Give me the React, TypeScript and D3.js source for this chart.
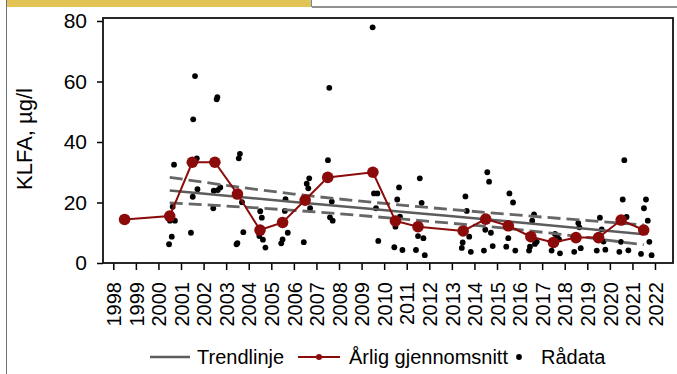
import React from "react";
import * as d3 from "d3";

// x-axis tick labels
const yearTicks = [
  1998, 1999, 2000, 2001, 2002, 2003, 2004, 2005, 2006, 2007, 2008, 2009, 2010,
  2011, 2012, 2013, 2014, 2015, 2016, 2017, 2018, 2019, 2020, 2021, 2022,
];
const yTicks = [0, 20, 40, 60, 80];

// årlig gjennomsnitt (plotted mid-year)
const meanYears = [
  1998.5, 2000.5, 2001.5, 2002.5, 2003.5, 2004.5, 2005.5, 2006.5, 2007.5,
  2009.5, 2010.5, 2011.5, 2013.5, 2014.5, 2015.5, 2016.5, 2017.5, 2018.5,
  2019.5, 2020.5, 2021.5,
];
const meanValues = [
  14.4, 15.5, 33.3, 33.3, 22.8, 10.9, 13.4, 20.8, 28.3, 30.0, 13.9, 12.0, 10.6,
  14.5, 12.3, 8.7, 6.8, 8.4, 8.4, 14.2, 10.9,
];

// trendlinje + konfidensintervall
const trendYears = [2000.5, 2006, 2011, 2016, 2021.5];
const trendValues = [24.0, 20.2, 16.8, 13.4, 9.5];
const trendUpper = [28.3, 22.8, 19.0, 15.8, 12.6];
const trendLower = [19.9, 17.4, 14.4, 11.0, 6.0];

// rådata [tid, verdi]
const rawData: [number, number][] = [
  [2000.69, 32.5], [2000.63, 18.6], [2000.51, 14.0], [2000.73, 14.0], [2000.59, 8.7], [2000.47, 6.2],
  [2001.62, 61.8], [2001.54, 47.5], [2001.7, 34.6], [2001.73, 24.4], [2001.52, 21.9], [2001.44, 10.0],
  [2002.61, 54.8], [2002.58, 54.1], [2002.74, 25.0], [2002.63, 24.1], [2002.45, 23.9], [2002.43, 18.1],
  [2003.61, 36.1], [2003.56, 34.6], [2003.7, 20.1], [2003.76, 10.2], [2003.5, 6.6], [2003.46, 6.2],
  [2004.51, 17.1], [2004.58, 15.0], [2004.47, 8.9], [2004.63, 7.7], [2004.74, 5.1],
  [2005.63, 21.1], [2005.6, 17.2], [2005.73, 10.0], [2005.5, 7.8], [2005.44, 6.5],
  [2006.68, 28.0], [2006.57, 26.2], [2006.64, 24.7], [2006.72, 18.1], [2006.44, 6.9],
  [2007.57, 57.9], [2007.51, 34.0], [2007.68, 20.3], [2007.6, 15.1], [2007.72, 14.0],
  [2009.49, 77.9], [2009.55, 23.0], [2009.7, 23.0], [2009.64, 18.1], [2009.74, 7.3],
  [2010.66, 25.0], [2010.58, 21.0], [2010.7, 15.3], [2010.5, 12.0], [2010.45, 5.2], [2010.81, 4.3],
  [2011.58, 28.0], [2011.66, 19.9], [2011.5, 8.9], [2011.74, 8.2], [2011.41, 4.3], [2011.8, 2.6],
  [2013.6, 22.0], [2013.66, 17.2], [2013.77, 8.7], [2013.48, 6.8], [2013.44, 5.0], [2013.84, 3.7],
  [2014.57, 30.0], [2014.65, 26.9], [2014.48, 11.0], [2014.73, 10.0], [2014.81, 5.6], [2014.42, 4.1],
  [2015.55, 23.0], [2015.71, 20.0], [2015.5, 8.2], [2015.41, 5.4], [2015.81, 4.1],
  [2016.64, 16.1], [2016.56, 14.0], [2016.76, 7.0], [2016.68, 6.3], [2016.46, 5.4], [2016.42, 4.1],
  [2017.57, 9.6], [2017.68, 8.5], [2017.75, 7.8], [2017.42, 4.1], [2017.79, 3.2],
  [2018.6, 13.2], [2018.65, 11.8], [2018.71, 4.9], [2018.42, 3.7],
  [2019.56, 15.0], [2019.64, 11.1], [2019.72, 7.1], [2019.42, 4.1], [2019.8, 4.4],
  [2020.64, 34.0], [2020.57, 21.0], [2020.74, 15.2], [2020.49, 7.0], [2020.42, 3.7], [2020.82, 4.2],
  [2021.6, 21.0], [2021.51, 18.1], [2021.68, 14.0], [2021.75, 7.0], [2021.38, 3.0], [2021.85, 2.6],
];

const RED = "#8b0a0a";
const GREY = "#5c5c5c";
const FONT = "'Liberation Sans', Arial, sans-serif";

export default function App() {
  const svgRef = React.useRef<SVGSVGElement>(null);

  React.useEffect(() => {
    const svg = d3.select(svgRef.current);
    svg.selectAll("*").remove();

    const plot = { left: 103, right: 673, top: 18, bottom: 263 };

    const x = d3.scaleLinear().domain([1998, 2022]).range([113.3, 655]);
    const y = d3.scaleLinear().domain([0, 80]).range([263, 21]);

    // page decoration
    svg.append("rect").attr("x", 7).attr("y", 0).attr("width", 304).attr("height", 7).attr("fill", "#e2c353");
    svg.append("line").attr("x1", 311.5).attr("x2", 311.5).attr("y1", 0).attr("y2", 7).attr("stroke", "#5b8fb0");
    svg.append("line").attr("x1", 312).attr("x2", 677).attr("y1", 7).attr("y2", 7).attr("stroke", "#222").attr("stroke-width", 1.2);
    svg.append("line").attr("x1", 6.5).attr("x2", 6.5).attr("y1", 0).attr("y2", 374).attr("stroke", "#6a7480").attr("stroke-width", 1);

    // y axis
    const gy = svg
      .append("g")
      .attr("transform", `translate(${plot.left},0)`)
      .call(d3.axisLeft(y).tickValues(yTicks).tickSize(6).tickSizeOuter(0).tickPadding(10));
    gy.select(".domain").remove();
    gy.selectAll("line").attr("stroke", "#000").attr("stroke-width", 1.5);
    gy.selectAll("text").attr("font-size", 21).attr("font-family", FONT).attr("fill", "#000");

    // x axis
    const gx = svg
      .append("g")
      .attr("transform", `translate(0,${plot.bottom})`)
      .call(d3.axisBottom(x).tickValues(yearTicks).tickFormat(d3.format("d")).tickSize(7).tickSizeOuter(0));
    gx.select(".domain").remove();
    gx.selectAll("line").attr("stroke", "#000").attr("stroke-width", 1.5);
    gx.selectAll("text")
      .attr("font-size", 20)
      .attr("font-family", FONT)
      .attr("fill", "#000")
      .attr("text-anchor", "end")
      .attr("transform", "rotate(-90)")
      .attr("x", -19)
      .attr("y", 0)
      .attr("dy", "0.36em");

    // frame
    svg
      .append("rect")
      .attr("x", plot.left)
      .attr("y", plot.top)
      .attr("width", plot.right - plot.left)
      .attr("height", plot.bottom - plot.top)
      .attr("fill", "none")
      .attr("stroke", "#111")
      .attr("stroke-width", 1.8);

    // y title
    svg
      .append("text")
      .attr("transform", `translate(24,139) rotate(-90)`)
      .attr("text-anchor", "middle")
      .attr("dy", "0.36em")
      .attr("font-size", 22)
      .attr("font-family", FONT)
      .text("KLFA, µg/l");

    // rådata
    svg
      .append("g")
      .selectAll("circle")
      .data(rawData)
      .join("circle")
      .attr("cx", (d) => x(d[0]))
      .attr("cy", (d) => y(d[1]))
      .attr("r", 2.9)
      .attr("fill", "#000");

    // trend + band
    const band = (vals: number[]) =>
      d3
        .line<number>()
        .x((_, i) => x(trendYears[i]))
        .y((d) => y(d))
        .curve(d3.curveMonotoneX)(vals);

    [trendUpper, trendLower].forEach((vals) => {
      svg
        .append("path")
        .attr("d", band(vals))
        .attr("fill", "none")
        .attr("stroke", "#666")
        .attr("stroke-width", 2.8)
        .attr("stroke-dasharray", "13,6");
    });
    svg
      .append("path")
      .attr("d", band(trendValues))
      .attr("fill", "none")
      .attr("stroke", GREY)
      .attr("stroke-width", 2.5);

    // årlig gjennomsnitt
    const meanLine = d3
      .line<number>()
      .x((_, i) => x(meanYears[i]))
      .y((d) => y(d));
    svg
      .append("path")
      .attr("d", meanLine(meanValues))
      .attr("fill", "none")
      .attr("stroke", RED)
      .attr("stroke-width", 2);
    svg
      .append("g")
      .selectAll("circle")
      .data(meanValues)
      .join("circle")
      .attr("cx", (_, i) => x(meanYears[i]))
      .attr("cy", (d) => y(d))
      .attr("r", 5.8)
      .attr("fill", RED);

    // legend
    const ly = 357;
    const lg = svg.append("g").attr("font-family", FONT).attr("font-size", 20);
    lg.append("line").attr("x1", 150).attr("x2", 190).attr("y1", ly).attr("y2", ly).attr("stroke", GREY).attr("stroke-width", 2.5);
    lg.append("text").attr("x", 197).attr("y", ly).attr("dy", "0.36em").text("Trendlinje");
    lg.append("line").attr("x1", 298).attr("x2", 340).attr("y1", ly).attr("y2", ly).attr("stroke", RED).attr("stroke-width", 2);
    lg.append("circle").attr("cx", 319).attr("cy", ly).attr("r", 3).attr("fill", RED);
    lg.append("text").attr("x", 349).attr("y", ly).attr("dy", "0.36em").text("Årlig gjennomsnitt");
    lg.append("circle").attr("cx", 519).attr("cy", ly).attr("r", 2.9).attr("fill", "#000");
    lg.append("text").attr("x", 541).attr("y", ly).attr("dy", "0.36em").text("Rådata");

    return () => {
      svg.selectAll("*").remove();
    };
  }, []);

  return (
    <svg
      ref={svgRef}
      width={677}
      height={374}
      style={{ position: "absolute", left: 0, top: 0, background: "#fff" }}
    />
  );
}
